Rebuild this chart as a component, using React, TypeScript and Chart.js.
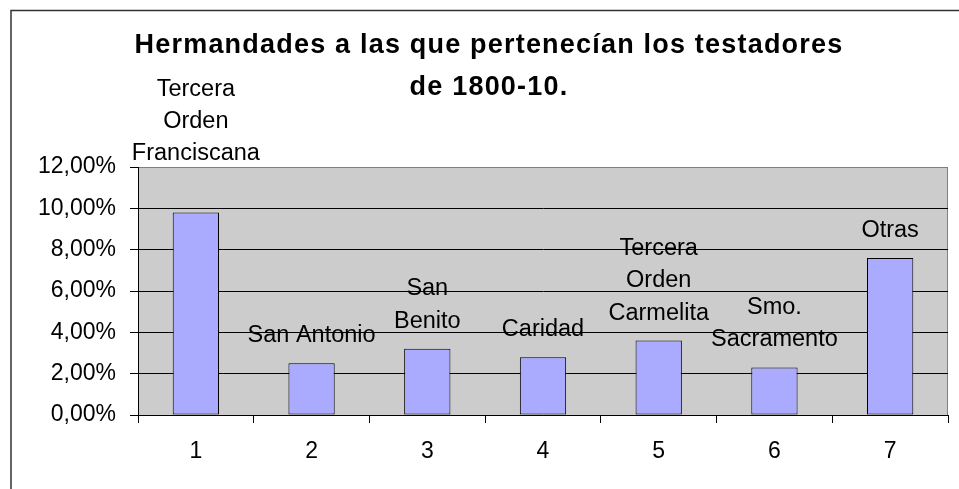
import React, { useEffect, useRef } from 'react';
import { Chart, registerables } from 'chart.js';

Chart.register(...registerables);

// ---- data ----
const categories = ['1', '2', '3', '4', '5', '6', '7'];
const values = [9.8, 2.5, 3.2, 2.8, 3.6, 2.3, 7.6];
const barLabels = [
  ['Tercera', 'Orden', 'Franciscana'],
  ['San Antonio'],
  ['San', 'Benito'],
  ['Caridad'],
  ['Tercera', 'Orden', 'Carmelita'],
  ['Smo.', 'Sacramento'],
  ['Otras'],
];
const titleLines = ['Hermandades a las que pertenecían los testadores', 'de 1800-10.'];
const yMin = 0;
const yMax = 12;
const yStep = 2;

const FONT = "'Liberation Sans', Arial, sans-serif";

const fmtPct = (v: number) => Number(v).toFixed(2).replace('.', ',') + '%';

const decorPlugin = {
  id: 'decor',
  beforeUpdate(chart: any) {
    chart.ctx.letterSpacing = '0px';
  },
  beforeDraw(chart: any) {
    const { ctx, chartArea: a } = chart;
    ctx.save();
    ctx.fillStyle = '#ffffff';
    ctx.fillRect(0, 0, chart.width, chart.height);
    ctx.fillStyle = '#CCCCCC';
    ctx.fillRect(a.left, a.top, a.right - a.left, a.bottom - a.top);
    ctx.strokeStyle = '#808080';
    ctx.lineWidth = 1;
    ctx.beginPath();
    ctx.moveTo(a.left, a.top + 0.5);
    ctx.lineTo(a.right - 0.5, a.top + 0.5);
    ctx.lineTo(a.right - 0.5, a.bottom);
    ctx.stroke();
    // outer frame
    ctx.strokeStyle = '#333333';
    ctx.lineWidth = 1.5;
    ctx.beginPath();
    ctx.moveTo(11, chart.height);
    ctx.lineTo(11, 10.5);
    ctx.lineTo(chart.width, 10.5);
    ctx.stroke();
    ctx.restore();
    // spacing used by the title only
    ctx.letterSpacing = '1.2px';
  },
  afterDatasetsDraw(chart: any, _args: any, opts: any) {
    const { ctx } = chart;
    ctx.letterSpacing = '0px';
    const meta = chart.getDatasetMeta(0);
    ctx.save();
    ctx.font = `23.5px ${FONT}`;
    ctx.fillStyle = '#000';
    ctx.textAlign = 'center';
    ctx.textBaseline = 'alphabetic';
    const lift = opts.lift || {};
    meta.data.forEach((bar: any, i: number) => {
      const lines = barLabels[i] || [];
      const base = bar.y - 21 - (lift[i] || 0);
      for (let k = 0; k < lines.length; k++) {
        const y = base - (lines.length - 1 - k) * 32.4;
        ctx.fillText(lines[k], bar.x, y);
      }
    });
    ctx.restore();
  },
};

export default function App() {
  const ref = useRef<HTMLCanvasElement | null>(null);
  useEffect(() => {
    if (!ref.current) return;
    const chart = new Chart(ref.current, {
      type: 'bar',
      data: {
        labels: categories,
        datasets: [
          {
            data: values,
            backgroundColor: '#AAAAFF',
            borderColor: '#000000',
            borderWidth: 1,
            borderSkipped: false,
            categoryPercentage: 1,
            barPercentage: 0.4,
          },
        ],
      },
      options: {
        animation: false,
        responsive: false,
        layout: { padding: { left: 30, right: 11, top: 0, bottom: 8 } },
        plugins: {
          legend: { display: false },
          tooltip: { enabled: false },
          title: {
            display: true,
            text: titleLines,
            color: '#000',
            font: { family: FONT, size: 27, weight: 'bold', lineHeight: 42 / 27 },
            padding: { top: 25, bottom: 58 },
          },
          decor: { lift: { 0: 31 } },
        } as any,
        scales: {
          x: {
            grid: {
              display: true,
              drawOnChartArea: false,
              offset: true,
              tickLength: 8,
              color: '#000',
              tickColor: '#000',
            },
            border: { display: true, color: '#000', width: 1 },
            ticks: {
              color: '#000',
              font: { family: FONT, size: 23, lineHeight: 1.2 },
              padding: 15,
              z: 1,
            },
            afterFit: (s: any) => {
              s.height = 66;
            },
          },
          y: {
            min: yMin,
            max: yMax,
            grid: {
              color: (c: any) => (c.tick && c.tick.value === yMax ? '#808080' : '#000'),
              tickColor: '#000',
              tickLength: 8,
            },
            border: { display: true, color: '#000', width: 1 },
            ticks: {
              stepSize: yStep,
              color: '#000',
              font: { family: FONT, size: 23, lineHeight: 1.2 },
              padding: 14,
              z: 1,
              callback: (v: any) => fmtPct(Number(v)),
            },
            afterFit: (s: any) => {
              s.width = 108;
            },
          },
        },
      },
      plugins: [decorPlugin as any],
    });
    return () => chart.destroy();
  }, []);
  return (
    <div style={{ position: 'fixed', left: 0, top: 0, width: 959, height: 489, overflow: 'hidden', background: '#fff' }}>
      <canvas ref={ref} width={959} height={489} style={{ display: 'block', width: 959, height: 489 }} />
    </div>
  );
}
